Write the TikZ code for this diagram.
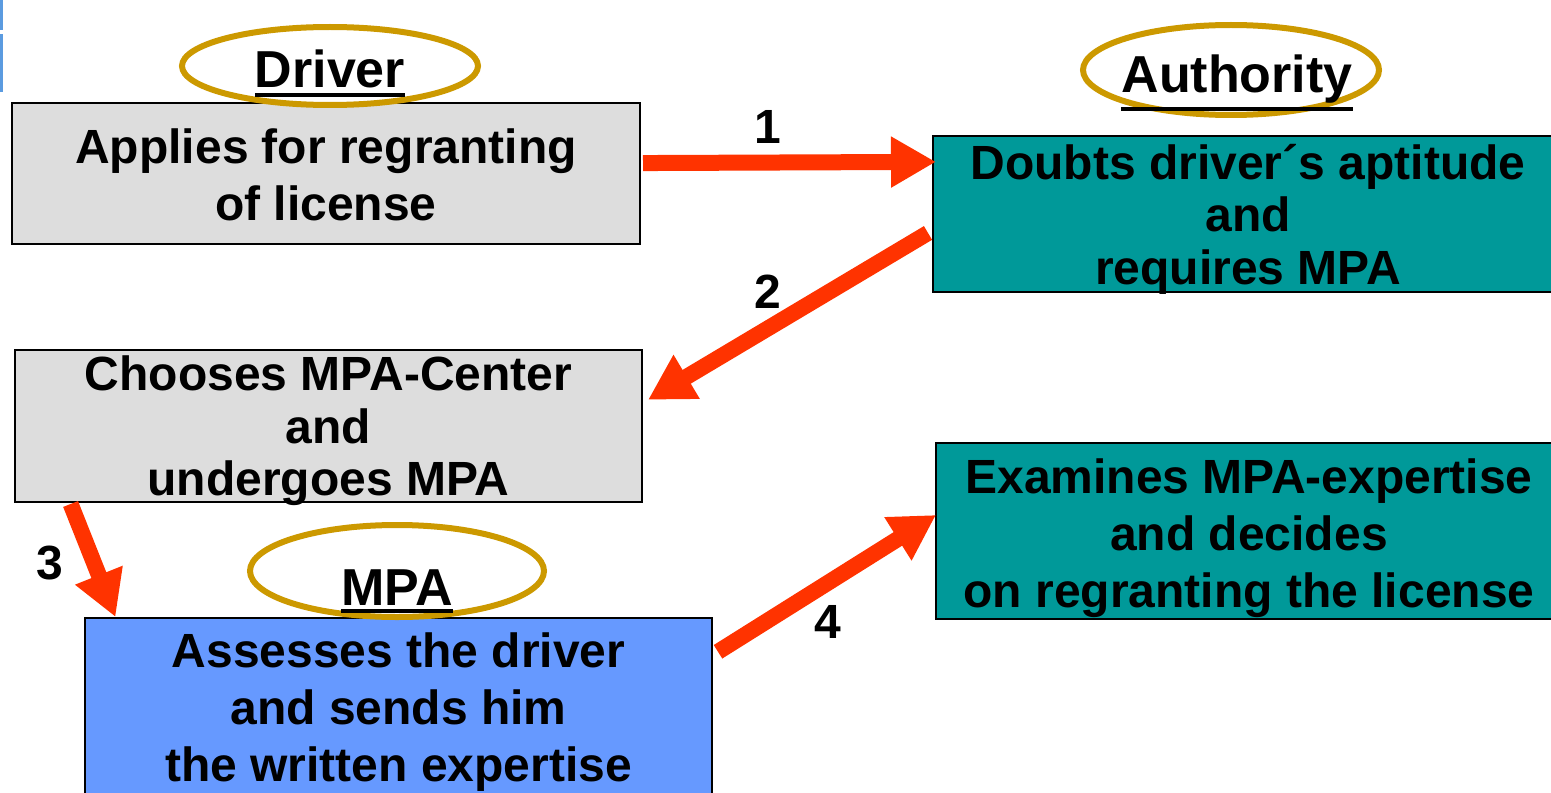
\documentclass[tikz,border=0pt]{standalone}
\usepackage{fontspec}
\setmainfont{Liberation Sans}
\usetikzlibrary{positioning, calc, arrows.meta, shapes.geometric}

\definecolor{drivergray}{HTML}{DDDDDD}
\definecolor{authteal}{HTML}{009999}
\definecolor{mpablue}{HTML}{6699FF}
\definecolor{ringgold}{HTML}{CC9900}
\definecolor{flowred}{HTML}{FF3300}
\definecolor{edgeblue}{HTML}{5B9BE0}

\newcommand{\hdr}[1]{\vtop{\hbox{#1}\kern2pt\hrule height 2pt}}
\newcommand{\lift}[1]{\rule{0pt}{#1}}

\begin{document}
\begin{tikzpicture}
    [x=0.5pt, y=-0.5pt,
    txt/.style={font=\fontsize{24}{28.5}\selectfont\bfseries},
    tighttxt/.style={font=\fontsize{24}{26.25}\selectfont\bfseries},
    stepbox/.style={rectangle, draw=black, line width=1pt, align=center, inner xsep=0pt, inner ysep=-12pt, txt},
    ring/.style={ellipse, draw=ringgold, line width=3pt, inner sep=0pt},
    header/.style={anchor=base, inner sep=0pt, font=\fontsize{26}{30}\selectfont\bfseries},
    flow/.style={draw=flowred, line width=8pt, -{Triangle[length=22.5pt, width=24pt]}},]

    \useasboundingbox (0,0) rectangle (1551,792);
    \fill[edgeblue] (0,0) rectangle (3,30);
    \fill[edgeblue] (0,34) rectangle (3,92);

    %Boxes
    \node[stepbox, fill=drivergray, minimum width=314pt, minimum height=70.5pt] (apply) at (326,173.5)
        {\lift{18.5pt}Applies for regranting\\of license};
    \node[stepbox, tighttxt, fill=authteal, minimum width=315pt, minimum height=78pt] (doubt) at (1248,214)
        {\lift{22.5pt}Doubts driver´s aptitude\\and\\requires MPA};
    \node[stepbox, tighttxt, fill=drivergray, minimum width=313.5pt, minimum height=76pt] (choose) at (328.5,426)
        {\lift{22.5pt}Chooses MPA-Center\\and\\undergoes MPA};
    \node[stepbox, fill=authteal, minimum width=313pt, minimum height=88pt] (decide) at (1249,531)
        {\lift{24.5pt}Examines MPA-expertise\\and decides\\on regranting the license};
    \node[stepbox, fill=mpablue, minimum width=313.5pt, minimum height=90.5pt] (assess) at (398.5,708.5)
        {\lift{20.5pt}Assesses the driver\\ and sends him\\the written expertise};

    %Headers
    \node[ring, minimum width=148pt, minimum height=39pt] (driverring) at (330,66) {};
    \node[ring, minimum width=148pt, minimum height=45pt] (authring) at (1231,70) {};
    \node[ring, minimum width=147pt, minimum height=46pt] (mparing) at (397,571) {};
    \node[header] (driver) at (330,88) {\hdr{Driver}};
    \node[header] (authority) at (1237,92) {\hdr{Authority}};
    \node[header] (mpa) at (397,605) {\hdr{MPA}};

    %Arrows
    \draw[flow] ($(apply.north east)!0.42!(apply.south east)+(2,1)$) -- ($(doubt.north west)!0.17!(doubt.south west)+(4,0)$);
    \draw[flow] ($(doubt.north west)!0.62!(doubt.south west)+(-4,0)$) -- ($(choose.north east)!0.33!(choose.south east)+(5,0)$);
    \draw[flow] ($(choose.south west)!0.09!(choose.south east)+(0,1)$) -- ($(assess.north west)!0.05!(assess.north east)$);
    \draw[flow] ($(assess.north east)!0.19!(assess.south east)+(5,0)$) -- ($(decide.north west)!0.41!(decide.south west)+(1,0)$);

    %Numbers
    \node[txt] (n1) at (768,127) {1};
    \node[txt] (n2) at (768,292) {2};
    \node[txt] (n3) at (50,563) {3};
    \node[txt] (n4) at (828,622) {4};
\end{tikzpicture}
\end{document}
